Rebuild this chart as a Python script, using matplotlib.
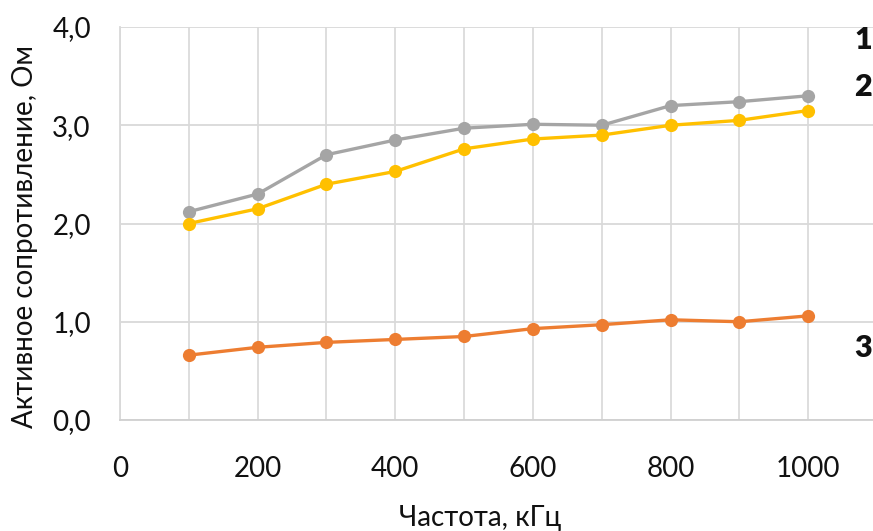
import matplotlib
matplotlib.use("Agg")
import matplotlib.pyplot as plt
from matplotlib.ticker import MultipleLocator, FuncFormatter

plt.rcParams['font.family'] = ['Lato', 'DejaVu Sans']

freq = [100, 200, 300, 400, 500, 600, 700, 800, 900, 1000]
series1 = [2.12, 2.30, 2.70, 2.85, 2.97, 3.01, 3.00, 3.20, 3.24, 3.30]
series2 = [2.00, 2.15, 2.40, 2.53, 2.76, 2.86, 2.90, 3.00, 3.05, 3.15]
series3 = [0.66, 0.74, 0.79, 0.82, 0.85, 0.93, 0.97, 1.02, 1.00, 1.06]
curve_labels = ['1', '2', '3']
x_label = 'Частота, кГц'
y_label = 'Активное сопротивление, Ом'

W, H = 873, 531
fig = plt.figure(figsize=(W / 100, H / 100), dpi=100)
ax = fig.add_axes([120 / W, (H - 420) / H, (873 - 120) / W, (420 - 27) / H])

ax.set_xlim(0, 1094)
ax.set_ylim(0, 4.0)

ax.xaxis.set_major_locator(MultipleLocator(200))
ax.xaxis.set_minor_locator(MultipleLocator(100))
ax.yaxis.set_major_locator(MultipleLocator(1.0))
ax.yaxis.set_major_formatter(FuncFormatter(lambda v, p: f"{v:.1f}".replace('.', ',')))

ax.grid(True, which='major', axis='y', color='#d9d9d9', linewidth=1.3, zorder=0)
ax.grid(True, which='both', axis='x', color='#d4d4d4', linewidth=1.1, zorder=0)
ax.set_axisbelow(True)

for s in ['top', 'right']:
    ax.spines[s].set_visible(False)
ax.spines['left'].set_color('#d9d9d9')
ax.spines['bottom'].set_color('#d0d0d0')
ax.spines['left'].set_linewidth(1.3)
ax.spines['bottom'].set_linewidth(1.3)

ax.tick_params(which='both', length=0)
ax.tick_params(axis='x', pad=26, labelsize=20, colors='#111111')
ax.tick_params(axis='y', pad=21, labelsize=20, colors='#111111')

colors = ['#A5A5A5', '#FFC000', '#ED7D31']
for ys, c in zip([series1, series2, series3], colors):
    ax.plot(freq, ys, color=c, linewidth=2.4, marker='o', markersize=9.5,
            markeredgewidth=0, zorder=3, clip_on=False)

label_y = [3.87, 3.39, 0.73]
for lab, yy in zip(curve_labels, label_y):
    ax.text(1080, yy, lab, fontsize=22, fontweight='heavy', ha='center', va='center',
            color='#111111', clip_on=False)

ax.set_xlabel(x_label, fontsize=20, color='#111111', va='center')
ax.set_ylabel(y_label, fontsize=20, color='#111111', va='center')
ax.xaxis.set_label_coords((480 - 120) / (873 - 120), -(518 - 420) / (420 - 27))
ax.yaxis.set_label_coords(-(120 - 25) / (873 - 120), (420 - 236) / (420 - 27))

fig.savefig('out.png', dpi=100, facecolor='white')
